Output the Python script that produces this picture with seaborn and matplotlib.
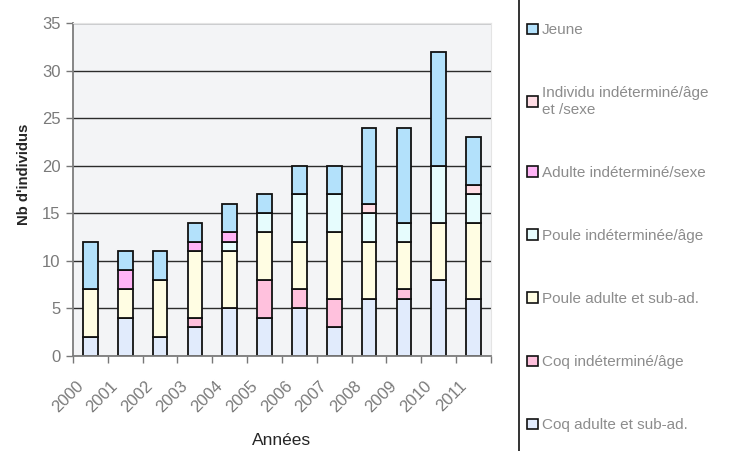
import pandas as pd
import numpy as np
import matplotlib.pyplot as plt
import matplotlib.transforms as mtransforms
import seaborn as sns
from matplotlib.lines import Line2D

sns.set_style("white")
plt.rcParams['font.family'] = ['Liberation Sans', 'DejaVu Sans']

# --- données ---
annees = [2000, 2001, 2002, 2003, 2004, 2005, 2006, 2007, 2008, 2009, 2010, 2011]

coq_adulte = [2, 4, 2, 3, 5, 4, 5, 3, 6, 6, 8, 6]
coq_indet = [0, 0, 0, 1, 0, 4, 2, 3, 0, 1, 0, 0]
poule_adulte = [5, 3, 6, 7, 6, 5, 5, 7, 6, 5, 6, 8]
poule_indet = [0, 0, 0, 0, 1, 2, 5, 4, 3, 2, 6, 3]
adulte_indet = [0, 2, 0, 1, 1, 0, 0, 0, 0, 0, 0, 0]
individu_indet = [0, 0, 0, 0, 0, 0, 0, 0, 1, 0, 0, 1]
jeune = [5, 2, 3, 2, 3, 2, 3, 3, 8, 10, 12, 5]

# ordre de la légende (haut -> bas), le premier est en haut de la pile
categories = [
    "Jeune",
    "Individu indéterminé/âge\net /sexe",
    "Adulte indéterminé/sexe",
    "Poule indéterminée/âge",
    "Poule adulte et sub-ad.",
    "Coq indéterminé/âge",
    "Coq adulte et sub-ad.",
]
series = [jeune, individu_indet, adulte_indet, poule_indet, poule_adulte, coq_indet, coq_adulte]
couleurs = ["#b3e1fb", "#ffdde5", "#ffb4f6", "#e6fcfd", "#fffde3", "#ffc1dd", "#e1ebfc"]

rows = []
for cat, vals in zip(categories, series):
    for a, v in zip(annees, vals):
        rows.append({"annee": a, "categorie": cat, "n": v})
df = pd.DataFrame(rows)

# --- figure ---
fig = plt.figure(figsize=(7.35, 4.51), dpi=100)
ax = fig.add_axes([0.0993, 0.2106, 0.5687, 0.7384])
ax.set_facecolor("#f3f4f6")

sns.histplot(data=df, x="annee", weights="n", hue="categorie", hue_order=categories,
             multiple="stack", discrete=True, shrink=0.42, palette=couleurs,
             alpha=1, edgecolor="#111111", linewidth=1.3, ax=ax)

ax.set_ylim(0, 35)
ax.set_xlim(annees[0] - 0.5, annees[-1] + 0.5)
ax.set_yticks(range(0, 36, 5))
ax.yaxis.grid(True, color="#2b2b2b", linewidth=1)
ax.set_axisbelow(True)

ax.set_xticks(annees)
ax.set_xticklabels([str(a) for a in annees], rotation=45, ha="right",
                   rotation_mode="anchor", color="#7a7a7a", fontsize=12)
ax.set_xticks(np.arange(annees[0] - 0.5, annees[-1] + 1), minor=True)
ax.tick_params(axis="x", which="major", length=0, pad=8)
ax.tick_params(axis="x", which="minor", length=5, width=1, color="#777777", bottom=True)
ax.tick_params(axis="y", length=5, width=1, color="#777777", labelcolor="#7a7a7a",
               labelsize=12, left=True, pad=4)

for s in ["left", "bottom"]:
    ax.spines[s].set_color("#7d7d7d")
    ax.spines[s].set_linewidth(1.3)
for s in ["top", "right"]:
    ax.spines[s].set_color("#e4e4e4")

ax.set_xlabel("Années", fontsize=12.5)
ax.xaxis.set_label_coords(0.5, -(440 - 356) / 333, transform=ax.transAxes)
ax.xaxis.label.set_va("center")
ax.set_ylabel("Nb d'individus", fontsize=10.7, fontweight="bold")
ax.yaxis.set_label_coords(-(73 - 24) / 418, (356 - 174) / 333, transform=ax.transAxes)
ax.yaxis.label.set_va("center")

sns.move_legend(ax, loc="upper left", bbox_to_anchor=(1.072, 1.018), title=None,
                frameon=False, fontsize=11, labelcolor="#8c8c8c",
                labelspacing=3.22, handlelength=0.68, handleheight=0.68,
                handletextpad=0.3, borderaxespad=0)
for h in ax.get_legend().legend_handles:
    h.set_edgecolor("#111111")
    h.set_linewidth(1.2)

fig.add_artist(Line2D([519 / 735, 519 / 735], [0, 1], color="#111111", linewidth=1.2))

# décalage des étiquettes d'années (vers la gauche et le bas)
decal = mtransforms.ScaledTranslation(-15 / 100, -11 / 100, fig.dpi_scale_trans)
for lab in ax.get_xticklabels():
    lab.set_transform(lab.get_transform() + decal)

fig.savefig("out.png", dpi=100)
